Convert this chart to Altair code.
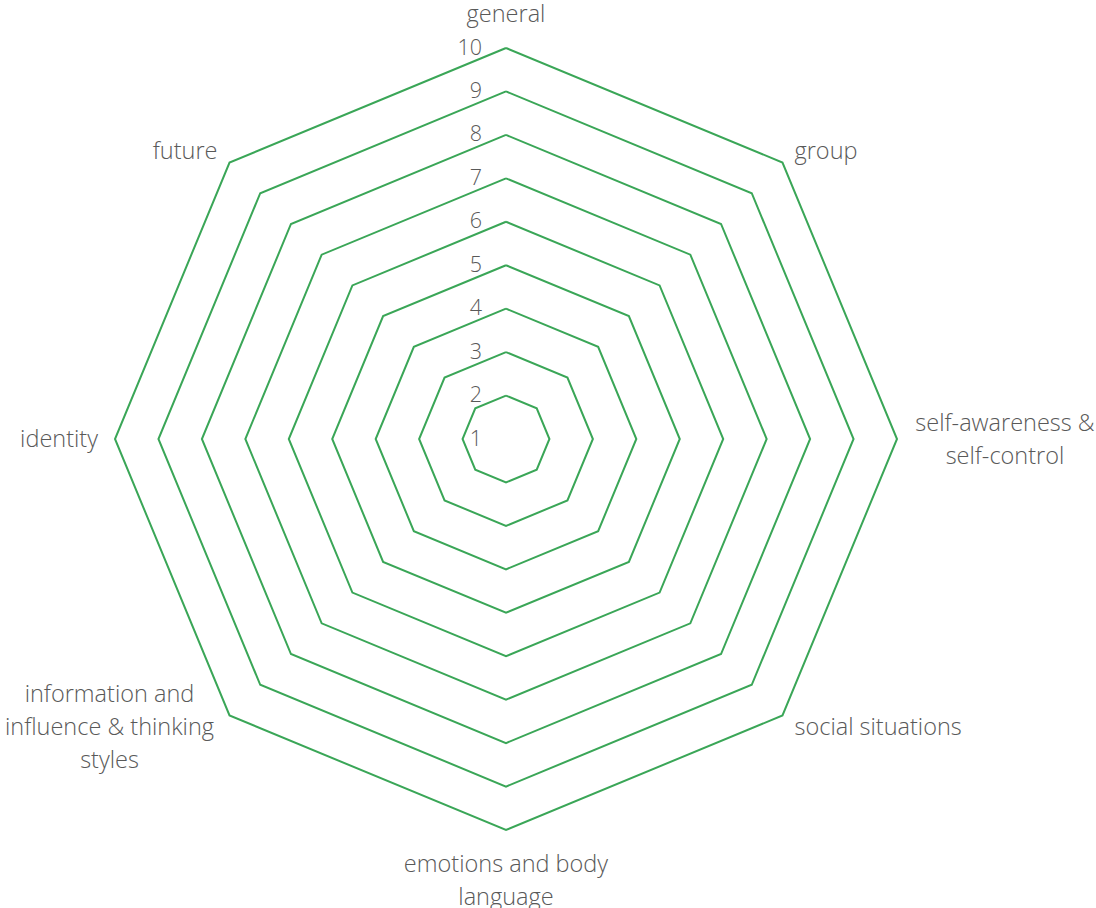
import altair as alt
import pandas as pd

# ---- data ----
categories = [
    "general",
    "group",
    "self-awareness &\nself-control",
    "social situations",
    "emotions and body\nlanguage",
    "information and\ninfluence & thinking\nstyles",
    "identity",
    "future",
]
levels = [1, 2, 3, 4, 5, 6, 7, 8, 9, 10]
tick_labels = ["1", "2", "3", "4", "5", "6", "7", "8", "9", "10"]

# ---- styling / layout ----
W, H = 1096, 908
CX, CY = 506, 439
UNIT = 391 / 9
GREEN = "#3aa657"
GREY = "#595959"
FONT = "Open Sans"
CAT_SIZE = 23.5
TICK_SIZE = 21.5
LINE_H = 33
LABEL_GAP = 17 / UNIT

n = len(categories)
base_level = levels[0]
max_r = levels[-1] - base_level

xs = alt.Scale(domain=[-CX / UNIT, (W - CX) / UNIT], nice=False, zero=False)
ys = alt.Scale(domain=[-(H - CY) / UNIT, CY / UNIT], nice=False, zero=False)

# rings (one closed polygon per level above the centre)
ring_df = pd.DataFrame(
    [{"level": lv, "k": k} for lv in levels[1:] for k in range(n + 1)]
)
rings = (
    alt.Chart(ring_df)
    .transform_calculate(ang=f"datum.k * 2 * PI / {n}", r=f"datum.level - {base_level}")
    .transform_calculate(px="datum.r * sin(datum.ang)", py="datum.r * cos(datum.ang)")
    .mark_line(color=GREEN, strokeWidth=2, strokeJoin="miter")
    .encode(
        x=alt.X("px:Q", scale=xs, axis=None),
        y=alt.Y("py:Q", scale=ys, axis=None),
        detail="level:N",
        order="k:Q",
    )
)

# tick labels
tick_df = pd.DataFrame({"level": levels, "label": tick_labels})
ticks = (
    alt.Chart(tick_df)
    .transform_calculate(px="0", py=f"datum.level - {base_level}")
    .mark_text(align="right", baseline="middle", dx=-24, dy=0.5, fontSize=TICK_SIZE, font=FONT,
               fontWeight=300, color=GREY)
    .encode(
        x=alt.X("px:Q", scale=xs, axis=None),
        y=alt.Y("py:Q", scale=ys, axis=None),
        text="label:N",
    )
)

# category labels
cat_df = pd.DataFrame({"category": categories, "k": list(range(n))})
cat_base = (
    alt.Chart(cat_df)
    .transform_calculate(ang=f"datum.k * 2 * PI / {n}")
    .transform_calculate(
        s="sin(datum.ang)",
        c="cos(datum.ang)",
        multi="indexof(datum.category, '\\n') >= 0",
    )
    .transform_calculate(
        px=f"({max_r} + {LABEL_GAP}) * datum.s",
        py=f"({max_r} + {LABEL_GAP}) * datum.c",
    )
)
enc = dict(
    x=alt.X("px:Q", scale=xs, axis=None),
    y=alt.Y("py:Q", scale=ys, axis=None),
    text="category:N",
)
txt = dict(fontSize=CAT_SIZE, font=FONT, fontWeight=300, color=GREY, lineBreak="\n", lineHeight=LINE_H)

top_lbl = cat_base.transform_filter("datum.c > 0.99").mark_text(
    align="center", baseline="bottom", dy=-4, **txt).encode(**enc)
bottom_lbl = cat_base.transform_filter("datum.c < -0.99").mark_text(
    align="center", baseline="top", dy=6, **txt).encode(**enc)
right_lbl = cat_base.transform_filter("datum.s > 0.1 && !datum.multi").mark_text(
    align="left", baseline="middle", dy=1, **txt).encode(**enc)
left_lbl = cat_base.transform_filter("datum.s < -0.1 && !datum.multi").mark_text(
    align="right", baseline="middle", dy=1, **txt).encode(**enc)
right_multi = cat_base.transform_filter("datum.s > 0.1 && datum.multi").mark_text(
    align="center", baseline="middle", dx=91, dy=1 - LINE_H / 2, **txt).encode(**enc)
left_multi = cat_base.transform_filter("datum.s < -0.1 && datum.multi").mark_text(
    align="center", baseline="middle", dx=-108, dy=1 - LINE_H, **txt).encode(**enc)

chart = (
    alt.layer(rings, ticks, top_lbl, bottom_lbl, right_lbl, left_lbl, right_multi, left_multi)
    .properties(width=W, height=H, padding=0, autosize=alt.AutoSizeParams(type="none"), background="white")
    .configure_view(stroke=None)
)

chart.save("out.html", embed_options={"renderer": "svg", "actions": False})
